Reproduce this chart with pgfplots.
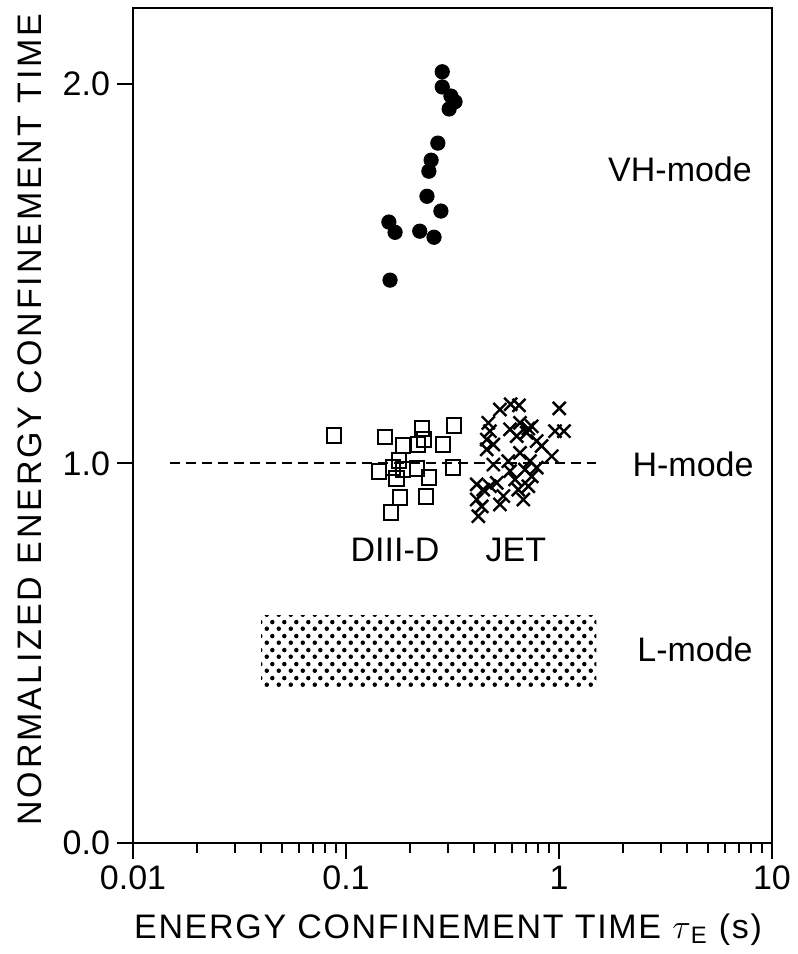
\documentclass[border=0pt]{standalone}
\usepackage{fontspec}
\setmainfont{Liberation Sans}
\newfontfamily\ylabfont{Liberation Sans}[LetterSpace=8.5]
\newfontfamily\xlabfont{Liberation Sans}[LetterSpace=5]
\usepackage{pgfplots}
\pgfplotsset{compat=1.18}
\usetikzlibrary{patterns}
\pgfdeclarepatternformonly{ldots}{\pgfqpoint{0pt}{0pt}}{\pgfqpoint{6pt}{7pt}}{\pgfqpoint{6pt}{7pt}}{%
  \pgfpathcircle{\pgfqpoint{1.5pt}{1.75pt}}{1.2pt}%
  \pgfpathcircle{\pgfqpoint{4.5pt}{5.25pt}}{1.2pt}%
  \pgfusepath{fill}}
\begin{document}
\begin{tikzpicture}[font=\fontsize{17}{20}\selectfont]
\begin{axis}[
  xmode=log,
  scale only axis,
  width=319.5pt, height=417.5pt,
  xmin=0.01, xmax=10, ymin=0, ymax=2.2,
  axis line style={line width=1pt},
  every tick/.style={black, line width=1pt},
  tick align=outside,
  major tick length=8pt, minor tick length=5pt,
  xtick pos=bottom, ytick pos=left,
  xtick={0.01,0.1,1,10}, xticklabels={0.01,0.1,1,10},
  ytick={0,1,2}, yticklabels={0.0,1.0,2.0},
  xlabel={\xlabfont ENERGY CONFINEMENT TIME $\tau$\textsubscript{E} (s)},
  ylabel={\ylabfont NORMALIZED ENERGY CONFINEMENT TIME},
  xlabel style={at={(axis description cs:0.493,-0.104)}, anchor=center},
  ylabel style={at={(axis description cs:-0.161,0.507)}, anchor=center},
  clip=false,
]
% L-mode band
\addplot[draw=none, pattern=ldots] coordinates {(0.04,0.41) (1.5,0.41) (1.5,0.6) (0.04,0.6)} -- cycle;
% H-mode reference line
\addplot[black, line width=1pt, dash pattern=on 5pt off 3pt] coordinates {(0.015,1) (1.5,1)};
% VH-mode (DIII-D)
\addplot[only marks, mark=*, mark size=3.6pt, black, mark options={fill=black}] coordinates {
(0.283,2.032) (0.283,1.992) (0.311,1.968) (0.325,1.953) (0.305,1.934) (0.270,1.844)
(0.251,1.799) (0.245,1.770) (0.240,1.704) (0.279,1.665) (0.159,1.636) (0.170,1.609)
(0.222,1.612) (0.259,1.596) (0.161,1.483)};
% DIII-D H-mode
\addplot[only marks, mark=square, mark size=3.6pt, black, line width=1pt, mark options={fill=white}] coordinates {
(0.0879,1.074) (0.152,1.069) (0.228,1.092) (0.321,1.100) (0.185,1.047) (0.232,1.063)
(0.218,1.050) (0.285,1.050) (0.177,1.008) (0.143,0.979) (0.166,0.989) (0.185,0.984)
(0.215,0.987) (0.173,0.960) (0.245,0.963) (0.318,0.989) (0.179,0.910) (0.237,0.913)
(0.163,0.871)};
% JET H-mode
\addplot[only marks, mark=x, mark size=4.6pt, black, line width=1.2pt] coordinates {
(0.528,1.142) (0.593,1.156) (0.649,1.153) (0.718,1.092) (1.003,1.145) (0.466,1.107)
(0.474,1.085) (0.458,1.063) (0.492,1.050) (0.458,1.037) (0.589,1.090) (0.656,1.107)
(0.633,1.072) (0.705,1.081) (0.745,1.098) (0.786,1.059) (0.829,1.046) (0.958,1.085)
(1.055,1.085) (0.925,1.019) (0.492,0.997) (0.578,1.006) (0.656,1.028) (0.731,1.006)
(0.692,0.984) (0.786,0.989) (0.411,0.945) (0.441,0.931) (0.474,0.940) (0.510,0.949)
(0.411,0.905) (0.434,0.887) (0.528,0.892) (0.418,0.861) (0.622,0.958) (0.644,0.931)
(0.718,0.940) (0.680,0.905) (0.745,0.966) (0.548,0.914) (0.589,0.980)};
\node at (axis cs:3.70,1.776) {VH-mode};
\node at (axis cs:4.26,0.997) {H-mode};
\node at (axis cs:4.35,0.509) {L-mode};
\node at (axis cs:0.170,0.773) {DIII-D};
\node at (axis cs:0.628,0.773) {JET};
\end{axis}
\path ([shift={(-66.5pt,-55.5pt)}]current axis.south west) rectangle ([shift={(10pt,4pt)}]current axis.north east);
\end{tikzpicture}
\end{document}
